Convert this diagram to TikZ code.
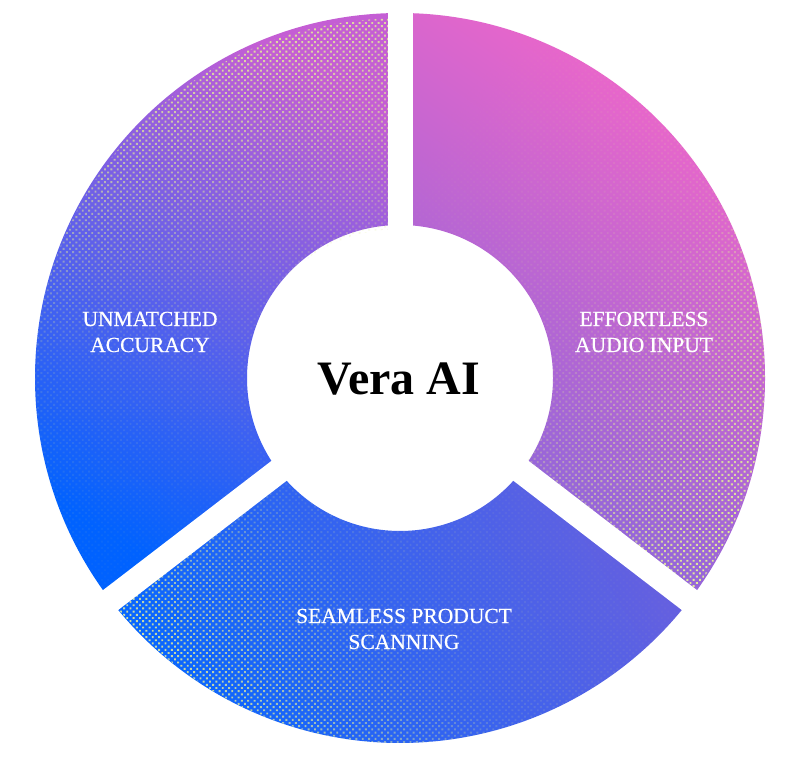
\documentclass[tikz,border=0pt]{standalone}
\usepackage{fontspec}
\setmainfont{Liberation Serif}
\newfontfamily\lblfont[FakeBold=0.6]{Liberation Serif}
\usetikzlibrary{patterns.meta,fadings}
\definecolor{pinkA}{HTML}{F766C8}
\definecolor{purR}{HTML}{8466DC}
\definecolor{purL}{HTML}{C45ED4}
\definecolor{blueL}{HTML}{0062FF}
\definecolor{purB}{HTML}{6460E0}
\definecolor{blueB}{HTML}{0866FF}
\definecolor{dotc}{HTML}{E4EE98}
\tikzdeclarepattern{
  name=htdots, type=uncolored,
  bottom left={(-2.3pt,-2.3pt)}, top right={(2.3pt,2.3pt)},
  tile size={(4.5pt,4.5pt)},
  tile transformation={rotate=45},
  code={\fill (0pt,0pt) circle[radius=1.35pt];}
}
\tikzfading[name=htfade, top color=transparent!0, bottom color=transparent!100, middle color=transparent!85]
\newcommand\segpath[2]{(#1:365) arc[start angle=#1, end angle=#2, radius=365] -- (#2:153) arc[start angle=#2, end angle=#1, radius=153] -- cycle}
\tikzset{
  gapline/.style={white, line width=25pt},
  lbl/.style={text=white, align=center, font=\lblfont\fontsize{21.5}{26}\selectfont},
  title/.style={text=black, font=\fontsize{48}{56}\selectfont\bfseries},
  dots/.style={pattern=htdots, pattern color=dotc, path fading=htfade, fading angle=#1}
}
\begin{document}
\begin{tikzpicture}[x=1pt,y=1pt]
\useasboundingbox (0,0) rectangle (800,758);
\fill[white] (0,0) rectangle (800,758);
\begin{scope}[shift={(400,380)}]
  % right segment
  \shade[top color=pinkA, bottom color=purR, shading angle=-35] \segpath{-37.5}{90};
  \fill[dots=-140] \segpath{-37.5}{90};
  % left segment
  \shade[top color=purL, bottom color=blueL, shading angle=-30] \segpath{90}{217.5};
  \fill[dots=10] \segpath{90}{217.5};
  % bottom segment
  \shade[top color=purB, bottom color=blueB, shading angle=-60] \segpath{217.5}{322.5};
  \fill[dots=115] \segpath{217.5}{322.5};
  \coordinate (o) at (0,0);
  \coordinate (g1) at (90:400);
  \coordinate (g2) at (-37.5:420);
  \coordinate (g3) at (217.5:420);
  \draw[gapline] (o) -- (g1);
  \draw[gapline] (o) -- (g2);
  \draw[gapline] (o) -- (g3);
\end{scope}
\node[title, anchor=base] (vera) at (399,363) {Vera AI};
\node[lbl] (acc) at (150,426) {UNMATCHED\\ACCURACY};
\node[lbl] (aud) at (644,426) {EFFORTLESS\\AUDIO INPUT};
\node[lbl] (scan) at (404,129) {SEAMLESS PRODUCT\\SCANNING};
\end{tikzpicture}
\end{document}
